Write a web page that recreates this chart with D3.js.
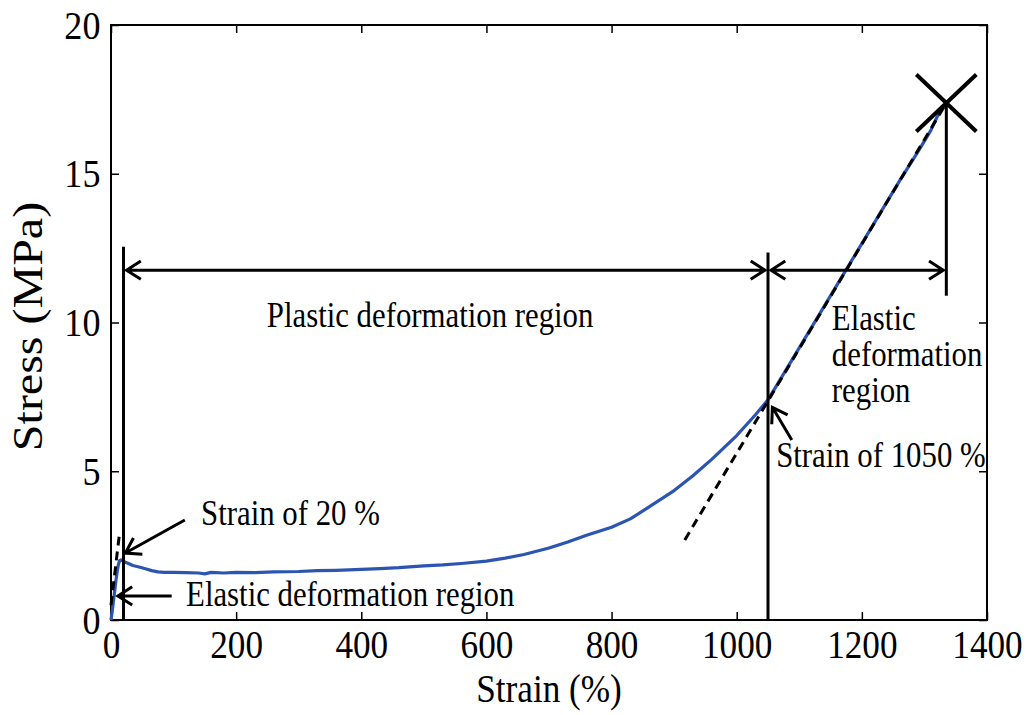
<!DOCTYPE html>
<html><head><meta charset="utf-8">
<script src="https://cdn.jsdelivr.net/npm/d3@7"></script>
<style>body{margin:0;background:#fff}</style>
</head><body><svg id="chart" width="1028" height="715"></svg>
<script>
// Tensile test: stress–strain record
const strain = [0,2,4,6,8,10,12,14,16,18,22,28,35,45,55,65,75,85,100,120,140,150,160,180,200,230,260,300,330,360,400,430,460,500,530,560,600,630,660,700,730,760,800,830,860,900,930,960,1000,1030,1050,1080,1110,1140,1170,1200,1230,1260,1290,1310,1320,1335];
const stress = [0,0.3,0.65,1.0,1.35,1.65,1.88,2.0,2.02,2.0,1.95,1.9,1.83,1.78,1.72,1.66,1.62,1.6,1.6,1.59,1.58,1.55,1.6,1.58,1.6,1.59,1.62,1.63,1.66,1.67,1.7,1.73,1.76,1.82,1.85,1.9,1.98,2.08,2.2,2.42,2.62,2.85,3.12,3.4,3.8,4.35,4.85,5.4,6.2,6.9,7.4,8.45,9.5,10.55,11.6,12.65,13.7,14.75,15.75,16.45,16.9,17.38];

// Linear fits of the two elastic stretches (dashed)
const fitLowStrain = [0, 13];
const fitLowStress = [0.5, 2.8];
const fitHighStrain = [917, 1335];
const fitHighStress = [2.69, 17.38];

// Region boundaries (strain %) and fracture point
const boundaryStrain = [20, 1050, 1335];
const boundaryTopStress = [12.55, 12.35, 17.38];
const boundaryBottomStress = [0, 0, 10.9];
const fractureStrain = 1335;
const fractureStress = 17.38;

const xTicks = [0,200,400,600,800,1000,1200,1400];
const yTicks = [0,5,10,15,20];

const W = 1028, H = 715;
const m = {left:111, right:41, top:25, bottom:95};
const svg = d3.select('#chart');
const x = d3.scaleLinear().domain([0,1400]).range([m.left, W - m.right]);
const y = d3.scaleLinear().domain([0,20]).range([H - m.bottom, m.top]);
const FONT = '"Liberation Serif", "Times New Roman", serif';
const SX = 0.88; // horizontal squeeze of the type

// frame + inward ticks on all four sides
const tick = 8;
const fmt = d3.format('d');
function styleAxis(g){
  g.attr('font-family', FONT);
  g.select('.domain').remove();
  g.selectAll('.tick line').attr('stroke','#000').attr('stroke-width',1.5);
}
const xb = svg.append('g').attr('transform',`translate(0,${y(0)})`)
  .call(d3.axisBottom(x).tickValues(xTicks).tickFormat(fmt).tickSizeInner(-tick).tickSizeOuter(0).tickPadding(10));
styleAxis(xb);
xb.selectAll('.tick text').attr('font-family',FONT).attr('font-size',40).attr('fill','#000').attr('transform',`scale(${SX},1)`);
const xt = svg.append('g').attr('transform',`translate(0,${y(20)})`)
  .call(d3.axisTop(x).tickValues(xTicks).tickSizeInner(-tick).tickSizeOuter(0).tickFormat(''));
styleAxis(xt);
const yl = svg.append('g').attr('transform',`translate(${x(0)},0)`)
  .call(d3.axisLeft(y).tickValues(yTicks).tickFormat(fmt).tickSizeInner(-tick).tickSizeOuter(0).tickPadding(12));
styleAxis(yl);
yl.selectAll('.tick text').attr('font-family',FONT).attr('font-size',41).attr('fill','#000').attr('transform',`scale(${SX},1)`);
const yr = svg.append('g').attr('transform',`translate(${x(1400)},0)`)
  .call(d3.axisRight(y).tickValues(yTicks).tickSizeInner(-tick).tickSizeOuter(0).tickFormat(''));
styleAxis(yr);
svg.append('rect').attr('x',x(0)).attr('y',y(20)).attr('width',x(1400)-x(0)).attr('height',y(0)-y(20))
  .attr('fill','none').attr('stroke','#000').attr('stroke-width',2);

// axis titles
svg.append('text').attr('font-family',FONT).attr('font-size',40)
  .attr('transform',`translate(${(x(0)+x(1400))/2},${y(0)+82}) scale(${SX},1)`)
  .attr('text-anchor','middle').text('Strain (%)');
svg.append('text').attr('font-family',FONT).attr('font-size',48)
  .attr('transform',`translate(42,${(y(0)+y(20))/2 + 4}) scale(${SX},1) rotate(-90)`)
  .attr('text-anchor','middle').text('Stress (MPa)');

// measured curve
const pts = strain.map((s,i)=>[s, stress[i]]);
const line = d3.line().x(d=>x(d[0])).y(d=>y(d[1]));
svg.append('path').datum(pts).attr('d',line).attr('fill','none')
  .attr('stroke','#2b55b0').attr('stroke-width',3.2).attr('stroke-linejoin','round');

// dashed linear fits
[[fitLowStrain,fitLowStress],[fitHighStrain,fitHighStress]].forEach(([sx,sy])=>{
  svg.append('path').datum(sx.map((s,i)=>[s,sy[i]])).attr('d',line).attr('fill','none')
    .attr('stroke','#000').attr('stroke-width',3).attr('stroke-dasharray','9,6');
});

// region boundaries
boundaryStrain.forEach((s,i)=>{
  svg.append('line').attr('x1',x(s)).attr('x2',x(s))
    .attr('y1',y(boundaryBottomStress[i])).attr('y2',y(boundaryTopStress[i]))
    .attr('stroke','#000').attr('stroke-width',3);
});

// fracture mark
const fx = x(fractureStrain), fy = y(fractureStress), r = 30;
svg.append('path').attr('d',`M${fx-r},${fy-r*0.95}L${fx+r},${fy+r*0.95}M${fx+r},${fy-r*0.95}L${fx-r},${fy+r*0.95}`)
  .attr('stroke','#000').attr('stroke-width',4).attr('fill','none');

// arrows
function chevron(tipX, tipY, fromX, fromY){
  const a = Math.atan2(fromY - tipY, fromX - tipX), L = 17, s = Math.PI/5.5;
  return `M${tipX+L*Math.cos(a+s)},${tipY+L*Math.sin(a+s)}L${tipX},${tipY}L${tipX+L*Math.cos(a-s)},${tipY+L*Math.sin(a-s)}`;
}
function arrow(x1,y1,x2,y2,both){
  let d = `M${x1},${y1}L${x2},${y2}` + chevron(x2,y2,x1,y1);
  if (both) d += chevron(x1,y1,x2,y2);
  svg.append('path').attr('d',d).attr('fill','none').attr('stroke','#000').attr('stroke-width',3);
}
const arrowStress = 11.76;
arrow(x(20)+3, y(arrowStress), x(1050)-3, y(arrowStress), true);
arrow(x(1050)+3, y(arrowStress), x(1335)-3, y(arrowStress), true);
arrow(x(118), y(3.36), x(23), y(2.25), false);
arrow(x(97), y(0.81), x(11), y(0.81), false);
arrow(x(1088), y(6.05), x(1057), y(7.15), false);

// annotation text
const notes = [
  {t:'Plastic deformation region', s:510, v:9.85, anchor:'middle'},
  {t:'Elastic', s:1152, v:9.75, anchor:'start'},
  {t:'deformation', s:1152, v:8.55, anchor:'start'},
  {t:'region', s:1152, v:7.33, anchor:'start'},
  {t:'Strain of 1050 %', s:1063, v:5.14, anchor:'start'},
  {t:'Strain of 20 %', s:144, v:3.18, anchor:'start'},
  {t:'Elastic deformation region', s:120, v:0.47, anchor:'start'}
];
svg.append('g').attr('font-family',FONT).attr('font-size',35).selectAll('text').data(notes).join('text')
  .attr('transform',d=>`translate(${x(d.s)},${y(d.v)}) scale(${SX},1)`)
  .attr('text-anchor',d=>d.anchor).text(d=>d.t);
</script></body></html>
